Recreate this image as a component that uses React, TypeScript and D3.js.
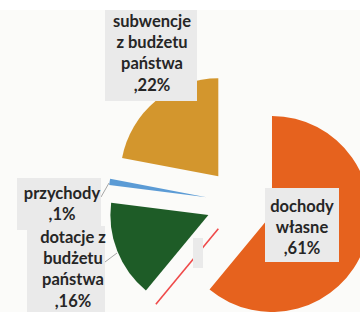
import { useEffect, useRef } from "react";
import * as d3 from "d3";

// pie data, clockwise from 12 o'clock
const CATEGORIES = ["dochody własne", "", "dotacje z budżetu państwa", "przychody", "subwencje z budżetu państwa"];
const VALUES = [61, 0, 16, 1, 22];
const COLORS = ["#e6621e", "#ef4a4a", "#1e5c27", "#5b9bd5", "#d3962d"];

// wrapped label lines (percent appended below)
const LABEL_LINES: string[][] = [
  ["dochody", "własne"],
  [],
  ["dotacje z", "budżetu", "państwa"],
  ["przychody"],
  ["subwencje", "z budżetu", "państwa"],
];

// label boxes: x, y, w, h, text centre x, first baseline
const LABEL_BOX = [
  [265, 188, 74, 74, 302, 212],
  [193, 238, 10, 30, 198, 0],
  [27, 226, 78, 90, 73, 243],
  [17, 178, 84, 52, 62, 199],
  [105, 10, 92, 91, 152, 27],
];

// leader lines for the small slices: label end -> slice edge
const LEADERS: Record<number, number[][]> = {
  2: [[101, 265], [117, 253]],
  3: [[101, 197], [109, 183]],
};

export default function App() {
  const svgRef = useRef<SVGSVGElement>(null);

  useEffect(() => {
    document.body.style.margin = "0";
    const W = 360, H = 312;
    const svg = d3.select(svgRef.current).attr("width", W).attr("height", H);
    svg.selectAll("*").remove();

    svg.append("rect").attr("width", W).attr("height", H).attr("fill", "#ffffff");
    svg.append("rect").attr("y", 10).attr("width", W).attr("height", H - 10).attr("fill", "#fbfbf9");

    const cx = 240, cy = 202.5, R = 98, explode = 34;

    const pie = d3.pie<number>().sort(null).value(d => d);
    const arcs = pie(VALUES);
    const arc = d3.arc<d3.PieArcDatum<number>>().innerRadius(0).outerRadius(R);

    const g = svg.append("g").attr("transform", `translate(${cx},${cy})`);
    arcs.forEach((a, i) => {
      const mid = (a.startAngle + a.endAngle) / 2;
      const dx = Math.sin(mid) * explode, dy = -Math.cos(mid) * explode;
      const sg = g.append("g").attr("transform", `translate(${dx},${dy})`);
      if (a.endAngle - a.startAngle < 1e-6) {
        // zero slice shows only as its edge
        sg.append("line")
          .attr("x1", 0).attr("y1", 0)
          .attr("x2", Math.sin(mid) * R).attr("y2", -Math.cos(mid) * R)
          .attr("stroke", COLORS[i]).attr("stroke-width", 1.6);
      } else {
        sg.append("path").attr("d", arc(a)).attr("fill", COLORS[i]);
      }
    });

    Object.entries(LEADERS).forEach(([, pts]) => {
      svg.append("line")
        .attr("x1", pts[0][0]).attr("y1", pts[0][1])
        .attr("x2", pts[1][0]).attr("y2", pts[1][1])
        .attr("stroke", "#a6a6a6").attr("stroke-width", 1);
    });

    CATEGORIES.forEach((c, i) => {
      const [x, y, w, h, tx, by] = LABEL_BOX[i];
      svg.append("rect").attr("x", x).attr("y", y).attr("width", w).attr("height", h).attr("fill", "#eaeaea");
      if (!c) return;
      const lines = [...LABEL_LINES[i], `,${VALUES[i]}%`];
      lines.forEach((t, li) => {
        svg.append("text")
          .attr("x", tx).attr("y", by + li * 21.2)
          .attr("text-anchor", "middle")
          .attr("font-family", "Lato, 'Open Sans', sans-serif")
          .attr("font-weight", 700)
          .attr("font-size", 16.5)
          .attr("fill", "#262626")
          .text(t);
      });
    });
  }, []);

  return (
    <div style={{ position: "absolute", left: 0, top: 0, width: 360, height: 312, overflow: "hidden" }}>
      <svg ref={svgRef} style={{ display: "block" }} />
    </div>
  );
}
